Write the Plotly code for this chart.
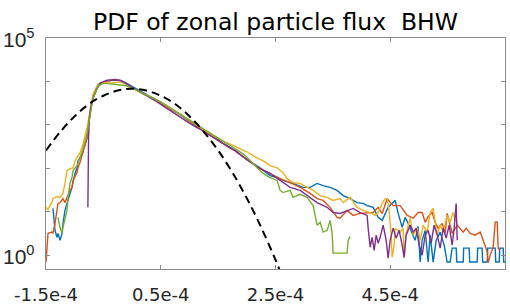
import plotly.graph_objects as go

# x values in units of 1e-4, y values as log10(PDF)
body_x = [-0.2, -0.1, 0.0, 0.1, 0.2, 0.3, 0.4, 0.5, 0.6, 0.7, 0.8, 0.9, 1.0,
          1.1, 1.2, 1.3, 1.4, 1.5, 1.6, 1.7, 1.8, 1.9, 2.0]

blue_x = [-1.378, -1.361, -1.343, -1.308, -1.291, -1.256, -1.221, -1.204, -1.169, -1.134,
          -1.116, -1.047, -0.994, -0.959, -0.942, -0.907, -0.872, -0.855, -0.785, -0.733,
          -0.680, -0.593, -0.471, -0.30] + body_x + [
          2.231, 2.406, 2.528, 2.633, 2.807, 2.981, 3.103, 3.225, 3.330, 3.452, 3.574, 3.679,
          3.801, 3.923, 4.027, 4.097, 4.202, 4.289, 4.359, 4.463, 4.533, 4.585, 4.638, 4.708,
          4.760, 4.812, 4.882, 4.934, 4.986, 5.021, 5.056, 5.109, 5.161, 5.196, 5.248, 5.300,
          5.370, 5.440, 5.492, 5.544, 5.579, 5.649, 5.660, 5.771, 5.780, 5.876, 5.885, 6.015,
          6.024, 6.102, 6.111, 6.190, 6.199, 6.329, 6.338, 6.399, 6.408, 6.469, 6.477, 6.50]
blue_l = [1.075, 0.87, 0.57, 0.41, 0.50, 0.34, 0.50, 0.73, 1.03, 1.19,
          1.26, 1.56, 1.88, 2.01, 2.17, 2.24, 2.33, 2.40, 2.70, 3.25,
          3.62, 3.89, 4.00, 4.03] + [
          4.02, 3.96, 3.88, 3.80, 3.74, 3.66, 3.60, 3.51, 3.44, 3.34, 3.27, 3.17, 3.09,
          2.99, 2.91, 2.83, 2.73, 2.66, 2.56, 2.49, 2.41, 2.30, 2.20] + [
          2.01, 1.83, 1.785, 1.72, 1.65, 1.56, 1.56, 1.65, 1.60, 1.56, 1.49, 1.37,
          1.30, 1.21, 1.19, 1.14, 1.10, 0.87, 0.80, 1.10, 1.19, 1.26, 0.96, 0.64,
          0.87, 0.73, 0.50, 0.34, 0.66, -0.16, 0.34, 0.57, -0.16, 0.46, -0.16, 0.34,
          0.53, 0.23, -0.16, -0.16, 0.16, 0.16, -0.16, -0.16, 0.16, 0.16, -0.16, -0.16,
          0.16, 0.16, -0.16, -0.16, 0.16, 0.16, -0.16, -0.16, 0.16, 0.16, -0.16, -0.16]

orange_x = [-1.50, -1.483, -1.465, -1.395, -1.378, -1.343, -1.308, -1.291, -1.256, -1.221,
            -1.204, -1.169, -1.134, -1.116, -1.082, -1.047, -1.029, -0.959, -0.942, -0.907,
            -0.855, -0.785, -0.733, -0.698, -0.646, -0.558, -0.436, -0.297] + body_x + [
            2.231, 2.406, 2.580, 2.755, 2.929, 3.103, 3.225, 3.330, 3.452, 3.574, 3.626, 3.748,
            3.853, 3.975, 4.097, 4.202, 4.289, 4.359, 4.446, 4.551, 4.673, 4.795, 4.900, 4.986,
            5.056, 5.109, 5.161, 5.231, 5.283, 5.335, 5.405, 5.457, 5.492, 5.527, 5.579, 5.667,
            5.719, 5.771, 5.824, 5.893, 5.980, 6.067, 6.120, 6.190, 6.207, 6.242, 6.294, 6.329,
            6.364, 6.381, 6.416]
orange_l = [-0.16, 0.11, 0.50, 0.53, 0.50, 0.73, 1.03, 1.19, 1.21, 1.26,
            1.30, 1.21, 1.33, 1.37, 1.49, 1.56, 1.72, 1.90, 2.01, 2.13,
            2.36, 2.70, 3.25, 3.55, 3.78, 3.94, 4.00, 4.05] + [
            4.02, 3.94, 3.86, 3.78, 3.72, 3.65, 3.59, 3.50, 3.42, 3.35, 3.26, 3.19, 3.08,
            3.01, 2.90, 2.81, 2.73, 2.64, 2.56, 2.47, 2.40, 2.31, 2.20] + [
            1.99, 1.88, 1.76, 1.67, 1.56, 1.42, 1.30, 1.26, 1.10, 0.87, 0.85, 1.03,
            0.915, 0.96, 0.98, 0.98, 1.10, 0.96, 1.30, 1.14, 1.14, 0.915, 0.85, 0.98,
            0.98, 0.755, 0.89, 0.98, 0.755, 0.62, 0.73, 0.50, 0.96, 0.80, 0.50, 0.69,
            0.62, 0.53, 0.62, 0.50, 0.46, 0.53, 0.34, 0.07, -0.18, 0.0, 0.18, 0.755,
            0.755, 0.16, 0.11]

yellow_x = [-1.50, -1.465, -1.43, -1.395, -1.378, -1.308, -1.256, -1.204, -1.169, -1.134,
            -1.082, -1.029, -0.994, -0.959, -0.907, -0.855, -0.785, -0.733, -0.680, -0.593,
            -0.506, -0.384, -0.297] + body_x + [
            2.179, 2.284, 2.406, 2.528, 2.633, 2.702, 2.807, 2.929, 3.051, 3.156, 3.278, 3.400,
            3.504, 3.626, 3.679, 3.801, 3.923, 4.027, 4.150, 4.237, 4.289, 4.359, 4.411, 4.446,
            4.48, 4.516, 4.533, 4.568, 4.585, 4.673, 4.725, 4.742, 4.777, 4.847, 4.900, 4.969,
            5.021, 5.074, 5.143, 5.196, 5.248, 5.318, 5.370, 5.422, 5.492, 5.544, 5.597, 5.632]
yellow_l = [1.10, 1.05, 1.14, 1.22, 1.30, 1.35, 1.33, 1.42, 1.65, 1.945,
            1.99, 2.01, 2.17, 2.24, 2.36, 2.56, 2.93, 3.32, 3.71, 3.94,
            3.98, 3.96, 3.97] + [
            3.99, 3.93, 3.85, 3.77, 3.70, 3.66, 3.60, 3.53, 3.44, 3.36, 3.28, 3.19, 3.10,
            3.02, 2.92, 2.84, 2.77, 2.68, 2.62, 2.56, 2.50, 2.44, 2.38] + [
            2.24, 2.17, 2.06, 2.01, 1.90, 1.76, 1.67, 1.65, 1.56, 1.49, 1.37, 1.33,
            1.26, 1.30, 1.21, 1.33, 1.10, 1.03, 0.98, 0.915, 0.98, 1.19, 1.30, 1.30,
            1.03, 0.46, -0.05, 0.23, 0.62, 0.53, 0.62, -0.07, 0.50, 0.85, 0.46, 0.62,
            0.34, 0.69, 0.53, 0.98, 1.075, 0.46, 0.69, 0.53, 0.915, 0.755, 0.98, 0.80]

purple_x = [-0.770, -0.766, -0.758, -0.745, -0.72, -0.68, -0.62, -0.558, -0.436,
            -0.332] + body_x + [
            2.231, 2.406, 2.580, 2.755, 2.929, 3.103, 3.225, 3.400, 3.504, 3.626, 3.748, 3.853,
            3.975, 4.097, 4.115, 4.150, 4.184, 4.22, 4.254, 4.289, 4.324, 4.376, 4.429, 4.463,
            4.498, 4.551, 4.603, 4.655, 4.708, 4.742, 4.777, 4.847, 4.900, 4.952, 5.004, 5.056,
            5.109, 5.161, 5.213, 5.265, 5.318, 5.370, 5.422, 5.475, 5.527, 5.579, 5.614, 5.649,
            5.667]
purple_l = [1.10, 2.0, 2.7, 3.15, 3.40, 3.62, 3.82, 3.96, 4.03, 4.04] + [
            4.02, 3.95, 3.86, 3.79, 3.71, 3.64, 3.56, 3.47, 3.38, 3.29, 3.21, 3.12, 3.04,
            2.96, 2.89, 2.80, 2.72, 2.64, 2.55, 2.48, 2.40, 2.30, 2.20] + [
            1.99, 1.88, 1.72, 1.56, 1.49, 1.33, 1.21, 1.10, 0.98, 0.96, 1.03, 1.075,
            0.98, 0.915, 0.62, 0.18, 0.41, 0.11, 0.46, 0.275, 0.41, 0.69, 0.34, -0.07,
            0.34, 0.62, 0.39, 0.57, 0.23, -0.05, 0.46, 0.69, 0.53, 0.62, 0.23, 0.0,
            0.46, 0.57, 0.275, 0.69, 0.46, 0.16, 0.62, 0.39, 0.69, 0.23, 0.62, 1.19,
            0.34]

green_x = [-1.291, -1.256, -1.221, -1.204, -1.134, -1.116, -1.082, -1.047, -1.029, -0.959,
           -0.907, -0.855, -0.785, -0.733, -0.680, -0.593, -0.506, -0.349] + body_x + [
           2.179, 2.284, 2.406, 2.528, 2.580, 2.633, 2.755, 2.807, 2.929, 3.051, 3.156, 3.225,
           3.278, 3.330, 3.400, 3.452, 3.487, 3.504, 3.626, 3.748, 3.766, 3.801]
green_l = [0.87, 0.64, 0.50, 0.64, 1.03, 1.33, 1.65, 1.785, 1.945, 2.06,
           2.24, 2.45, 2.79, 3.25, 3.62, 3.89, 3.96, 3.94] + [
           3.92, 3.90, 3.84, 3.79, 3.72, 3.66, 3.60, 3.53, 3.45, 3.37, 3.29, 3.20, 3.11,
           3.03, 2.94, 2.86, 2.78, 2.70, 2.62, 2.54, 2.45, 2.36, 2.26] + [
           2.01, 1.88, 1.785, 1.72, 1.49, 1.44, 1.49, 1.33, 1.40, 1.33, 1.14, 0.69,
           0.755, 0.53, 0.57, 0.80, 0.50, 0.046, 0.046, 0.046, 0.34, 0.43]

# Gaussian reference (dashed)
gauss_x = [-1.5, -1.25, -1.0, -0.75, -0.5, -0.25, 0.0, 0.25, 0.5, 0.75, 1.0,
           1.25, 1.5, 1.75, 2.0, 2.25, 2.5, 2.6]
gauss_l = [2.41, 2.84, 3.20, 3.48, 3.67, 3.79, 3.83, 3.79, 3.67, 3.48, 3.20,
           2.84, 2.41, 1.90, 1.31, 0.64, -0.11, -0.44]

# axis ticks
x_tick_vals = [-1.5e-4, 0.5e-4, 2.5e-4, 4.5e-4, 6.5e-4]
x_tick_text = ["-1.5e-4", "0.5e-4", "2.5e-4", "4.5e-4", ""]
y_tick_vals = [1, 10, 100, 1e3, 1e4, 1e5]
y_label_exps = [0, 5]

series = [
    (blue_x, blue_l, "#0072BD"),
    (orange_x, orange_l, "#D95319"),
    (yellow_x, yellow_l, "#EDB120"),
    (purple_x, purple_l, "#7E2F8E"),
    (green_x, green_l, "#77AC30"),
]

fig = go.Figure()
for xs, ls, col in series:
    fig.add_trace(go.Scatter(
        x=[v * 1e-4 for v in xs], y=[10 ** v for v in ls], mode="lines",
        line=dict(color=col, width=1.4), showlegend=False, hoverinfo="skip"))

fig.add_trace(go.Scatter(
    x=[v * 1e-4 for v in gauss_x], y=[10 ** v for v in gauss_l], mode="lines",
    line=dict(color="black", width=2, dash="8px,5px", shape="spline"),
    showlegend=False, hoverinfo="skip"))

axis_col = "#8a8a8a"
font_col = "#262626"

# y tick labels (10^0 and 10^5) as annotations anchored to the log axis
for e in y_label_exps:
    fig.add_annotation(text=f"10<sup>{e}</sup>", x=0, xref="paper", xanchor="right",
                       xshift=-9, y=e, yref="y", yanchor="middle", showarrow=False,
                       font=dict(family="Liberation Sans, Arial, sans-serif", size=21,
                                 color=font_col))

fig.update_layout(
    width=510, height=304,
    margin=dict(l=46, r=5, t=38, b=35, autoexpand=False),
    paper_bgcolor="white", plot_bgcolor="white",
    font=dict(family="Liberation Sans, Arial, sans-serif", color=font_col),
    title=dict(text="PDF of zonal particle flux  BHW", x=0.5, xref="paper",
               y=0.928, yref="container", yanchor="middle",
               font=dict(family="DejaVu Sans, sans-serif", size=23.5, color="black")),
    xaxis=dict(range=[-1.5e-4, 6.5e-4], showgrid=False, zeroline=False,
               showline=True, linecolor=axis_col, linewidth=1, mirror="ticks",
               ticks="inside", ticklen=4, tickcolor=axis_col, automargin=False,
               tickvals=x_tick_vals, ticktext=x_tick_text,
               tickfont=dict(family="DejaVu Sans, sans-serif", size=18, color=font_col),
               ticklabelstandoff=9),
    yaxis=dict(type="log", range=[-0.32, 5.0], showgrid=False, zeroline=False,
               showline=True, linecolor=axis_col, linewidth=1, mirror="ticks",
               ticks="inside", ticklen=4, tickcolor=axis_col, automargin=False,
               tickvals=y_tick_vals, showticklabels=False),
)

fig.write_html("out.html", config={"displayModeBar": False},
               post_script="document.body.style.margin='0';")
